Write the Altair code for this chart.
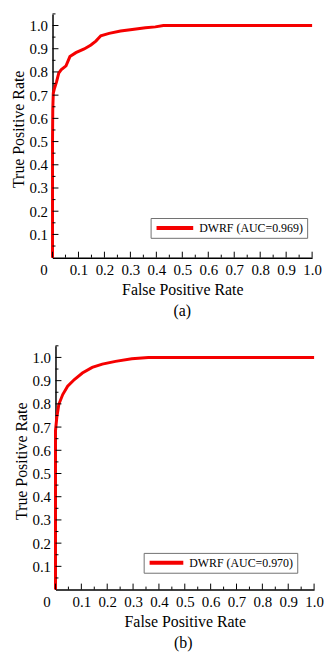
import altair as alt
import pandas as pd

# ---- data ----
fpr_a = [0.0, 0.0, 0.001, 0.003, 0.008, 0.016, 0.024, 0.033, 0.052, 0.067, 0.090,
         0.122, 0.148, 0.167, 0.186, 0.218, 0.262, 0.307, 0.358, 0.396, 0.427, 1.0]
tpr_a = [0.0, 0.50, 0.638, 0.709, 0.731, 0.759, 0.795, 0.809, 0.826, 0.866, 0.883,
         0.899, 0.916, 0.933, 0.956, 0.966, 0.976, 0.983, 0.990, 0.994, 1.0, 1.0]

fpr_b = [0.0, 0.0, 0.005, 0.013, 0.028, 0.047, 0.073, 0.104, 0.142, 0.181, 0.232,
         0.295, 0.359, 1.0]
tpr_b = [0.0, 0.684, 0.741, 0.798, 0.840, 0.876, 0.905, 0.933, 0.957, 0.971, 0.983,
         0.994, 1.0, 1.0]

label_a = "DWRF (AUC=0.969)"
label_b = "DWRF (AUC=0.970)"
caption_a = "(a)"
caption_b = "(b)"

x_label_values = [0.0, 0.1, 0.2, 0.3, 0.4, 0.5, 0.6, 0.7, 0.8, 0.9, 1.0]
y_label_values = [0.1, 0.2, 0.3, 0.4, 0.5, 0.6, 0.7, 0.8, 0.9, 1.0]
x_major = [0.0, 0.1, 0.2, 0.3, 0.4, 0.5, 0.6, 0.7, 0.8, 0.9, 1.0]
x_minor = [0.05, 0.15, 0.25, 0.35, 0.45, 0.55, 0.65, 0.75, 0.85, 0.95]
y_major = [0.1, 0.2, 0.3, 0.4, 0.5, 0.6, 0.7, 0.8, 0.9, 1.0]
y_minor = [0.05, 0.15, 0.25, 0.35, 0.45, 0.55, 0.65, 0.75, 0.85, 0.95, 1.05]

FONT = "Liberation Serif"
RED = "#f50000"


def panel(fpr, tpr, label, caption, shift, plot_w, height, legend_x, legend_y, sym_len):
    df = pd.DataFrame({"fpr": fpr, "tpr": tpr, "series": label,
                       "i": list(range(len(fpr)))})
    xs = alt.Scale(domain=[0, 1], nice=False, zero=False, range=[shift, shift + plot_w])
    ys = alt.Scale(domain=[0, 1.05], nice=False, zero=False)

    xaxis = alt.Axis(
        values=x_label_values,
        labelExpr="datum.value == 0 ? '0' : format(datum.value, '.1f')",
        ticks=False, grid=False, domainColor="black", domainWidth=1.5,
        labelFont=FONT, labelFontSize=15, labelColor="black", labelPadding=5,
        labelFlush=False, labelOverlap=False,
        labelOffset={"condition": {"test": "datum.value == 0", "value": -9}, "value": 0},
        title="False Positive Rate", titleFont=FONT, titleFontSize=16,
        titleFontWeight="normal", titleColor="black", titlePadding=4,
    )
    yaxis = alt.Axis(
        values=y_label_values, format=".1f",
        ticks=False, grid=False, domainColor="black", domainWidth=1.5,
        labelFont=FONT, labelFontSize=15, labelColor="black", labelPadding=5,
        labelFlush=False, labelOverlap=False, offset=-shift,
        title="True Positive Rate", titleFont=FONT, titleFontSize=16,
        titleFontWeight="normal", titleColor="black", titlePadding=3,
        titleY=116,
    )

    line = alt.Chart(df).mark_line(strokeWidth=3).encode(
        x=alt.X("fpr:Q", scale=xs, axis=xaxis),
        y=alt.Y("tpr:Q", scale=ys, axis=yaxis),
        color=alt.Color(
            "series:N", scale=alt.Scale(range=[RED]),
            legend=alt.Legend(
                title=None, orient="none", legendX=legend_x, legendY=legend_y,
                symbolType="stroke", symbolSize=sym_len * sym_len, clipHeight=12,
                symbolStrokeWidth=4, labelFont=FONT, labelFontSize=12,
                labelColor="black", labelOffset=4, padding=4,
                strokeColor="#707070", fillColor="white",
            ),
        ),
        order="i:Q",
    )

    xt_major = alt.Chart(pd.DataFrame({"v": x_major})).mark_rule(
        color="black", strokeWidth=1).encode(
        x=alt.X("v:Q", scale=xs, axis=xaxis),
        y=alt.value(height), y2=alt.value(height - 6))
    xt_minor = alt.Chart(pd.DataFrame({"v": x_minor})).mark_rule(
        color="black", strokeWidth=1).encode(
        x=alt.X("v:Q", scale=xs, axis=xaxis),
        y=alt.value(height), y2=alt.value(height - 3))
    yt_major = alt.Chart(pd.DataFrame({"v": y_major})).mark_rule(
        color="black", strokeWidth=1).encode(
        y=alt.Y("v:Q", scale=ys, axis=yaxis),
        x=alt.value(shift), x2=alt.value(shift + 6))
    yt_minor = alt.Chart(pd.DataFrame({"v": y_minor})).mark_rule(
        color="black", strokeWidth=1).encode(
        y=alt.Y("v:Q", scale=ys, axis=yaxis),
        x=alt.value(shift), x2=alt.value(shift + 3))

    return alt.layer(line, xt_major, xt_minor, yt_major, yt_minor).properties(
        width=shift + plot_w, height=height,
        title=alt.TitleParams(caption, orient="bottom", font=FONT, fontSize=16,
                              fontWeight="normal", color="black", offset=6,
                              anchor="middle"),
    )


pa = panel(fpr_a, tpr_a, label_a, caption_a, 0, 262, 246, 99, 206, 37)
pb = panel(fpr_b, tpr_b, label_b, caption_b, 3, 261, 246, 92, 209, 34)

chart = alt.vconcat(pa, pb, spacing=26).resolve_scale(
    color="independent", x="independent", y="independent"
).resolve_legend(color="independent").configure_view(stroke=None).properties(
    padding={"left": 10, "top": 10, "right": 0, "bottom": 0},
    background="white",
)

chart.save("out.html", embed_options={"renderer": "svg", "actions": False})
